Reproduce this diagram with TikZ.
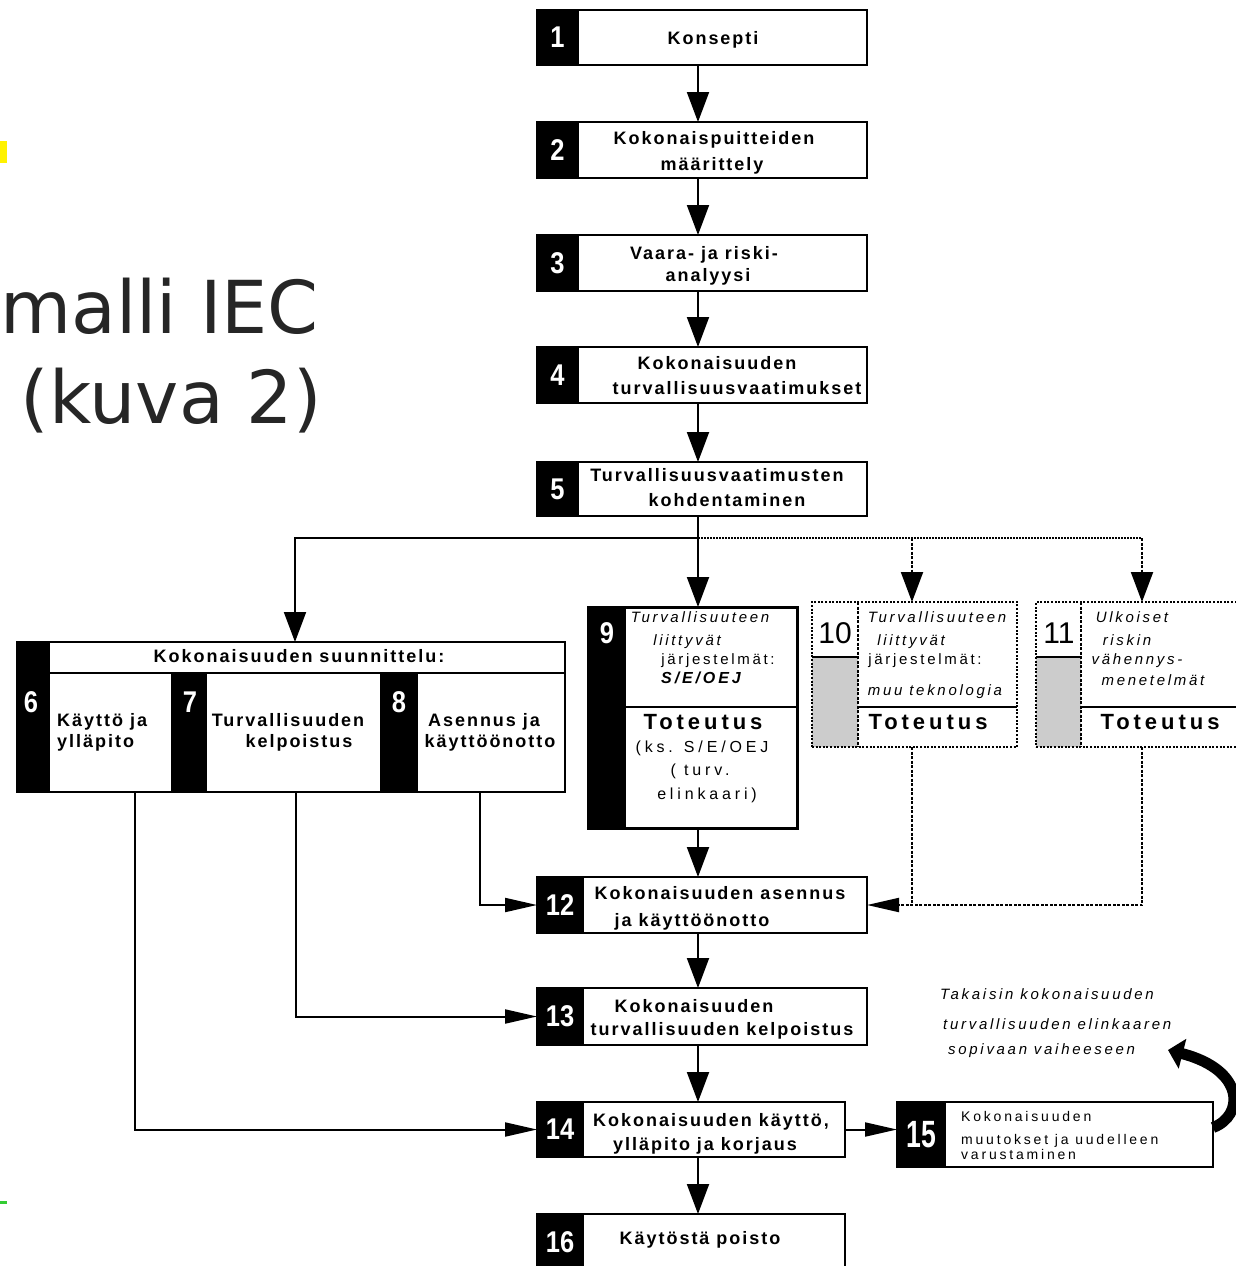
\documentclass[tikz,border=0pt]{standalone}
\usepackage{fontspec}
\setmainfont{Liberation Sans}
\usetikzlibrary{arrows.meta,calc}
\newfontfamily\bxfont{Liberation Sans}[LetterSpace=11]
\newfontfamily\spfont{Liberation Sans}[LetterSpace=18]
\newfontfamily\ksfont{Liberation Sans}[LetterSpace=24]
\newfontfamily\mdfont{Liberation Sans}[LetterSpace=20]
\newfontfamily\totfont{Liberation Sans}[LetterSpace=18]
\newfontfamily\numfont{Liberation Sans}[FakeStretch=0.85]
\newfontfamily\numfontb{Liberation Sans}[FakeStretch=0.7]
\newfontfamily\titlefont{DejaVu Sans}
\definecolor{titlegray}{HTML}{262626}
\definecolor{markgreen}{HTML}{33CC33}
\begin{document}
\begin{tikzpicture}[x=1pt,y=-1pt,
  box/.style={draw, line width=1.8pt, anchor=north west, inner sep=0pt, outer sep=0pt},
  dbox/.style={draw, line width=2pt, dash pattern=on 2pt off 1.6pt, anchor=north west, inner sep=0pt, outer sep=0pt},
  ncell/.style={fill=black, draw=black, line width=1.8pt, anchor=north west, inner sep=0pt, outer sep=0pt, text=white, font=\numfont\bfseries\fontsize{30}{30}\selectfont},
  blk/.style={fill=black, draw=black, line width=1.8pt, anchor=north west, inner sep=0pt, outer sep=0pt},
  numtxt/.style={text=white, inner sep=0pt, font=\numfont\bfseries\fontsize{30}{30}\selectfont},
  regnum/.style={inner sep=0pt, font=\fontsize{30}{30}\selectfont},
  mtxt/.style={font=\bxfont\bfseries\fontsize{18}{20}\selectfont, inner sep=0pt, anchor=mid, yshift=-2pt},
  ittxt/.style={font=\spfont\itshape\fontsize{15}{17}\selectfont, inner sep=0pt, anchor=mid},
  uptxt/.style={font=\spfont\fontsize{15}{17}\selectfont, inner sep=0pt, anchor=mid},
  ksstxt/.style={font=\ksfont\fontsize{16}{18}\selectfont, inner sep=0pt, anchor=mid},
  tottxt/.style={font=\totfont\bfseries\fontsize{22}{24}\selectfont, inner sep=0pt, anchor=mid},
  m15txt/.style={font=\mdfont\fontsize{14}{16}\selectfont, inner sep=0pt, anchor=mid west},
  backtxt/.style={font=\spfont\itshape\fontsize{15}{17}\selectfont, inner sep=0pt, anchor=mid west},
  solid2/.style={line width=2pt},
  arr/.style={line width=2pt, -{Triangle[length=30pt,width=22pt]}},
  sarr/.style={line width=2pt, -{Triangle[length=32pt,width=14pt]}},
  dline/.style={line width=2pt, dash pattern=on 3pt off 1.5pt},
  darr/.style={dline, -{Triangle[length=30pt,width=22pt]}},
  dsarr/.style={dline, -{Triangle[length=32pt,width=14pt]}},
]
\useasboundingbox (0,0) rectangle (1235,1266);

% side marks and title
\fill[yellow] (0,141) rectangle (7,163);
\fill[markgreen] (0,1201) rectangle (7,1204);
\node[font=\titlefont\fontsize{73}{73}\selectfont, text=titlegray, inner sep=0pt, anchor=base east] (title1) at (319,333) {malli IEC};
\node[font=\titlefont\fontsize{73}{73}\selectfont, text=titlegray, inner sep=0pt, anchor=base east] (title2) at (322,423) {(kuva 2)};

% main column boxes 1-5
\node[box, minimum width=330pt, minimum height=55pt] (b1) at (537,10) {};
\node[ncell, minimum width=41pt, minimum height=55pt] (c1) at (537,10) {1};
\node[mtxt] (t1) at (713,40) {Konsepti};

\node[box, minimum width=330pt, minimum height=56pt] (b2) at (537,122) {};
\node[ncell, minimum width=41pt, minimum height=56pt] (c2) at (537,122) {2};
\node[mtxt] (t2a) at (714,140) {Kokonaispuitteiden};
\node[mtxt] (t2b) at (712,166) {määrittely};

\node[box, minimum width=330pt, minimum height=56pt] (b3) at (537,235) {};
\node[ncell, minimum width=41pt, minimum height=56pt] (c3) at (537,235) {3};
\node[mtxt] (t3a) at (704,255) {Vaara- ja riski-};
\node[mtxt] (t3b) at (708,277) {analyysi};

\node[box, minimum width=330pt, minimum height=56pt] (b4) at (537,347) {};
\node[ncell, minimum width=41pt, minimum height=56pt] (c4) at (537,347) {4};
\node[mtxt] (t4a) at (717,365) {Kokonaisuuden};
\node[mtxt] (t4b) at (737,390) {turvallisuusvaatimukset};

\node[box, minimum width=330pt, minimum height=54pt] (b5) at (537,462) {};
\node[ncell, minimum width=41pt, minimum height=54pt] (c5) at (537,462) {5};
\node[mtxt] (t5a) at (717,477) {Turvallisuusvaatimusten};
\node[mtxt] (t5b) at (727,502) {kohdentaminen};

% group 6-8
\node[box, minimum width=548pt, minimum height=150pt] (g) at (17,642) {};
\node[blk, minimum width=32pt, minimum height=31pt] (gh) at (17,642) {};
\draw[line width=1.8pt] (gh.south east) -- (gh.south east -| g.east);
\node[blk, minimum width=32pt, minimum height=117pt] (k6) at (17,675) {};
\node[blk, minimum width=34pt, minimum height=119pt] (k7) at (172,673) {};
\node[blk, minimum width=36pt, minimum height=119pt] (k8) at (381,673) {};
\node[numtxt] (n6) at (31,702) {6};
\node[numtxt] (n7) at (190,702) {7};
\node[numtxt] (n8) at (399,702) {8};
\node[mtxt] (tg) at (299,658) {Kokonaisuuden suunnittelu:};
\node[mtxt, anchor=mid west] (t6a) at (57,722) {Käyttö ja};
\node[mtxt, anchor=mid west] (t6b) at (57,743) {ylläpito};
\node[mtxt] (t7a) at (288,722) {Turvallisuuden};
\node[mtxt] (t7b) at (299,743) {kelpoistus};
\node[mtxt] (t8a) at (484,722) {Asennus ja};
\node[mtxt] (t8b) at (490,743) {käyttöönotto};

% box 9
\node[box, line width=3pt, minimum width=209pt, minimum height=221pt] (b9) at (588,607) {};
\node[blk, line width=3pt, minimum width=36pt, minimum height=221pt] (k9) at (588,607) {};
\node[numtxt] (n9) at (607,633) {9};
\draw[line width=1.8pt] (624,707) -- (797,707);
\node[ittxt] (t9a) at (700,620) {Turvallisuuteen};
\node[ittxt] (t9b) at (687,643) {liittyvät};
\node[uptxt] (t9c) at (718,662) {järjestelmät:};
\node[ittxt, font=\spfont\bfseries\itshape\fontsize{16}{18}\selectfont] (t9d) at (701,681) {S/E/OEJ};
\node[tottxt] (t9e) at (703,727) {Toteutus};
\node[ksstxt] (t9f) at (702,750) {(ks. S/E/OEJ};
\node[ksstxt] (t9g) at (700,773) {( turv.};
\node[ksstxt] (t9h) at (707,797) {elinkaari)};

% box 10
\fill[gray!40] (812,657) rectangle (858,747);
\node[dbox, minimum width=205pt, minimum height=145pt] (b10) at (812,602) {};
\draw[dline] (858,602) -- (858,747);
\draw[line width=1.8pt] (812,657) -- (858,657);
\draw[line width=1.8pt] (858,707) -- (1017,707);
\node[regnum] (n10) at (835,633) {10};
\node[ittxt] (t10a) at (937,620) {Turvallisuuteen};
\node[ittxt] (t10b) at (911,643) {liittyvät};
\node[uptxt] (t10c) at (925,662) {järjestelmät:};
\node[ittxt] (t10d) at (935,693) {muu teknologia};
\node[tottxt] (t10e) at (928,727) {Toteutus};

% box 11
\fill[gray!40] (1036,657) rectangle (1081,747);
\node[dbox, minimum width=260pt, minimum height=145pt] (b11) at (1036,602) {};
\draw[dline] (1081,602) -- (1081,747);
\draw[line width=1.8pt] (1036,657) -- (1081,657);
\draw[line width=1.8pt] (1081,707) -- (1240,707);
\node[regnum] (n11) at (1059,633) {11};
\node[ittxt] (t11a) at (1132,620) {Ulkoiset};
\node[ittxt] (t11b) at (1127,643) {riskin};
\node[ittxt] (t11c) at (1137,662) {vähennys-};
\node[ittxt] (t11d) at (1153,683) {menetelmät};
\node[tottxt] (t11e) at (1160,727) {Toteutus};

% boxes 12-16
\node[box, minimum width=330pt, minimum height=56pt] (b12) at (537,877) {};
\node[ncell, minimum width=46pt, minimum height=56pt] (c12) at (537,877) {12};
\node[mtxt] (t12a) at (720,895) {Kokonaisuuden asennus};
\node[mtxt] (t12b) at (692,922) {ja käyttöönotto};

\node[box, minimum width=330pt, minimum height=57pt] (b13) at (537,988) {};
\node[ncell, minimum width=46pt, minimum height=57pt] (c13) at (537,988) {13};
\node[mtxt] (t13a) at (694,1008) {Kokonaisuuden};
\node[mtxt] (t13b) at (722,1031) {turvallisuuden kelpoistus};

\node[box, minimum width=308pt, minimum height=55pt] (b14) at (537,1102) {};
\node[ncell, minimum width=46pt, minimum height=55pt] (c14) at (537,1102) {14};
\node[mtxt] (t14a) at (711,1122) {Kokonaisuuden käyttö,};
\node[mtxt] (t14b) at (705,1146) {ylläpito ja korjaus};

\node[box, minimum width=308pt, minimum height=62pt] (b16) at (537,1214) {};
\node[ncell, minimum width=46pt, minimum height=62pt] (c16) at (537,1214) {};
\node[numtxt] (n16) at (560,1242) {16};
\node[mtxt] (t16) at (700,1240) {Käytöstä poisto};

\node[box, minimum width=316pt, minimum height=65pt] (b15) at (897,1102) {};
\node[ncell, minimum width=48pt, minimum height=65pt, font=\numfontb\bfseries\fontsize{38}{38}\selectfont] (c15) at (897,1102) {15};
\node[m15txt] (t15a) at (961,1119) {Kokonaisuuden};
\node[m15txt] (t15b) at (961,1142) {muutokset ja uudelleen};
\node[m15txt] (t15c) at (961,1157) {varustaminen};

\node[backtxt] (tb1) at (940,997) {Takaisin kokonaisuuden};
\node[backtxt] (tb2) at (943,1027) {turvallisuuden elinkaaren};
\node[backtxt] (tb3) at (948,1052) {sopivaan vaiheeseen};

% connectors
\coordinate (ax) at (698,0);
\draw[arr] (b1.south -| ax) -- (b2.north -| ax);
\draw[arr] (b2.south -| ax) -- (b3.north -| ax);
\draw[arr] (b3.south -| ax) -- (b4.north -| ax);
\draw[arr] (b4.south -| ax) -- (b5.north -| ax);

\coordinate (j) at (698,538);
\coordinate (jl) at (295,538);
\coordinate (jm) at (912,538);
\coordinate (jr) at (1142,538);
\draw[solid2] (b5.south -| ax) -- (j);
\draw[arr] (j) -- (b9.north -| ax);
\draw[arr] (j) -- (jl) -- (g.north -| jl);
\draw[line width=1.5pt, dash pattern=on 1.5pt off 1.5pt] (j) -- (jr);
\draw[darr] (jm) -- (b10.north -| jm);
\draw[darr] (jr) -- (b11.north -| jr);

\draw[arr] (b9.south -| ax) -- (b12.north -| ax);
\draw[arr] (b12.south -| ax) -- (b13.north -| ax);
\draw[arr] (b13.south -| ax) -- (b14.north -| ax);
\draw[arr] (b14.south -| ax) -- (b16.north -| ax);

\coordinate (o6) at (135,792);
\coordinate (o7) at (296,792);
\coordinate (o8) at (480,792);
\draw[sarr] (o8) |- (b12.west);
\draw[sarr] (o7) |- (b13.west);
\draw[sarr] (o6) |- (b14.west);

\coordinate (o10) at (912,747);
\coordinate (o11) at (1142,747);
\draw[dline] (o10) -- (o10 |- b12.east);
\draw[dsarr] (o11) |- (b12.east);

\draw[sarr] (b14.east) -- (b14.east -| b15.west);

\coordinate (ret) at (1168,1050);
\draw[line width=11pt, -{Triangle[length=15pt,width=30pt]}] ($(b15.east)+(0,-7)$) .. controls (1244,1116) and (1246,1070) .. (ret);
\end{tikzpicture}
\end{document}
